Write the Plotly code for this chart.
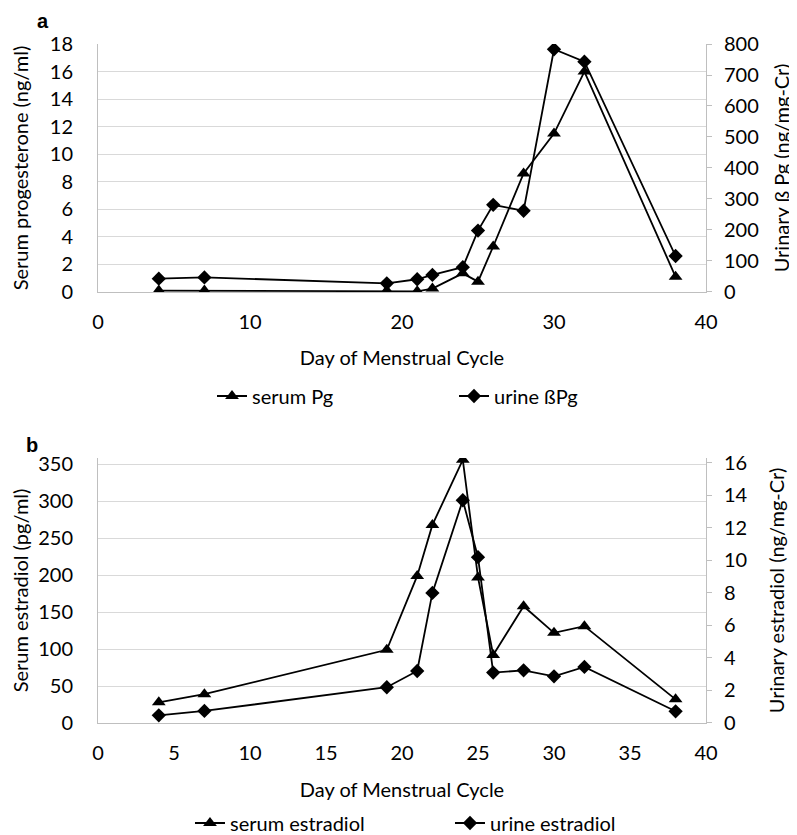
import plotly.graph_objects as go

# Day of menstrual cycle for every sample
days = [4, 7, 19, 21, 22, 24, 25, 26, 28, 30, 32, 38]

# panel a: progesterone
serum_pg = [0.1, 0.1, 0.1, 0.05, 0.25, 1.35, 0.75, 3.3, 8.6, 11.5, 16.0, 1.1]
urine_bpg = [43, 47, 28, 41, 55, 80, 198, 281, 262, 783, 743, 116]

# panel b: estradiol
serum_e2 = [28, 39, 99, 199, 268, 356, 197, 92, 158, 122, 131, 32]
urine_e2 = [0.47, 0.74, 2.2, 3.2, 8.0, 13.7, 10.2, 3.1, 3.24, 2.87, 3.45, 0.72]

FONT = "Lato"
GRID = "#d9d9d9"
AXIS = "#bfbfbf"

fig = go.Figure()

line = dict(color="black", width=1.8)
tri = dict(symbol="triangle-up", size=12, color="black")
dia = dict(symbol="diamond", size=11, color="black")

fig.add_trace(go.Scatter(x=days, y=serum_pg, name="serum Pg", mode="lines+markers",
                         line=line, marker=tri, xaxis="x", yaxis="y", legend="legend"))
fig.add_trace(go.Scatter(x=days, y=urine_bpg, name="urine ßPg", mode="lines+markers",
                         line=line, marker=dia, xaxis="x", yaxis="y2", legend="legend"))
fig.add_trace(go.Scatter(x=days, y=serum_e2, name="serum estradiol", mode="lines+markers",
                         line=line, marker=tri, xaxis="x2", yaxis="y3", legend="legend2"))
fig.add_trace(go.Scatter(x=days, y=urine_e2, name="urine estradiol", mode="lines+markers",
                         line=line, marker=dia, xaxis="x2", yaxis="y4", legend="legend2"))

tickfont = dict(family=FONT, size=20, color="black")
titlefont = dict(family=FONT, size=20, color="black")

xbase = dict(range=[0, 40], showgrid=False, showline=True, linecolor=AXIS, linewidth=1,
             zeroline=False, ticks="", tickfont=tickfont, ticklabelstandoff=12)
yleft = dict(showgrid=True, gridcolor=GRID, gridwidth=1, showline=True, linecolor=AXIS,
             zeroline=False, ticks="", tickfont=tickfont, ticklabelstandoff=20)
yright = dict(side="right", showgrid=False, showline=True, linecolor=AXIS, zeroline=False,
              ticks="outside", ticklen=5, tickcolor=AXIS, tickfont=tickfont,
              ticklabelstandoff=8)

top_a = [0.6348, 1.0]
top_b = [0.0, 0.3903]

# the page body has an 8px margin, so the figure is 8px smaller than the window
fig.update_layout(
    width=789, height=827,
    margin=dict(l=90, r=91, t=36, b=112, autoexpand=False),
    paper_bgcolor="white", plot_bgcolor="white",
    font=dict(family=FONT, color="black"),
    xaxis=dict(xbase, domain=[0, 1], anchor="y", dtick=10,
               title=dict(text="Day of Menstrual Cycle", font=titlefont, standoff=19)),
    yaxis=dict(yleft, domain=top_a, anchor="x", range=[0, 18], dtick=2,
               title=dict(text="Serum progesterone (ng/ml)", font=titlefont, standoff=15)),
    yaxis2=dict(yright, overlaying="y", anchor="x", range=[0, 800], dtick=100,
                title=dict(text="Urinary ß Pg (ng/mg-Cr)", font=titlefont, standoff=17)),
    xaxis2=dict(xbase, domain=[0, 1], anchor="y3", dtick=5,
                title=dict(text="Day of Menstrual Cycle", font=titlefont, standoff=19)),
    yaxis3=dict(yleft, domain=top_b, anchor="x2", range=[0, 358.5], dtick=50,
                title=dict(text="Serum estradiol (pg/ml)", font=titlefont, standoff=15)),
    yaxis4=dict(yright, overlaying="y3", anchor="x2", range=[0, 16.3], dtick=2,
                title=dict(text="Urinary estradiol (ng/mg-Cr)", font=titlefont, standoff=23)),
    legend=dict(orientation="h", x=0.1875, xanchor="left", y=0.4816, yanchor="middle",
                entrywidth=197, font=dict(family=FONT, size=20, color="black"),
                bgcolor="rgba(0,0,0,0)"),
    legend2=dict(orientation="h", x=0.1513, xanchor="left", y=-0.1473, yanchor="middle",
                 entrywidth=215, font=dict(family=FONT, size=20, color="black"),
                 bgcolor="rgba(0,0,0,0)"),
    showlegend=True,
    annotations=[
        dict(text="<b>a</b>", x=-0.0905, y=715 / 679, xref="paper", yref="paper",
             xanchor="center", yanchor="top", showarrow=False,
             font=dict(family="Liberation Sans", size=20, color="black")),
        dict(text="<b>b</b>", x=-0.109, y=0.4094, xref="paper", yref="paper",
             xanchor="center", yanchor="middle", showarrow=False,
             font=dict(family="Liberation Sans", size=20, color="black")),
    ],
)

fig.write_html("out.html")
